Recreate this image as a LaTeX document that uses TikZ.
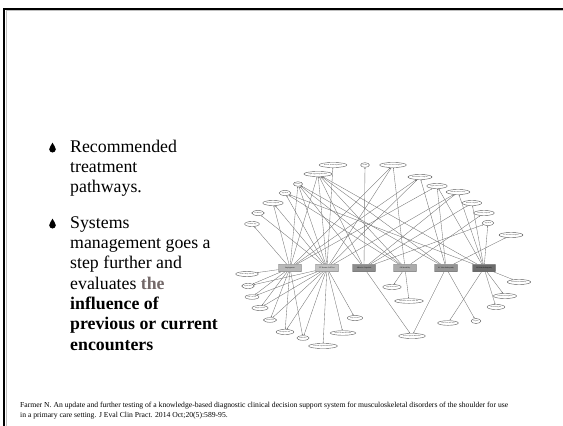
\documentclass[tikz,border=0pt]{standalone}
\usepackage{fontspec}
\setmainfont{Liberation Serif}
\usetikzlibrary{arrows.meta,shapes.geometric}

\definecolor{accent}{RGB}{115,105,105}

\tikzset{
	symptom/.style={ellipse, draw=black!65, fill=white, line width=0.4pt, inner xsep=0.9pt, inner ysep=1.1pt, font=\fontsize{1.5}{1.7}\selectfont},
	dx/.style={draw=black!60, rounded corners=0.6pt, line width=0.3pt, minimum width=23pt, minimum height=7.5pt, inner sep=0.5pt, font=\fontsize{1.8}{2}\selectfont},
	link/.style={draw=black!55, line width=0.35pt, -{Latex[length=1.4pt,width=1.2pt]}},
	body/.style={anchor=base west, inner sep=0pt, font=\fontsize{17.8}{20}\selectfont},
	cite/.style={anchor=base west, inner sep=0pt, font=\fontsize{7.65}{8}\selectfont},
	drop/.pic={
		\fill (0,-5.3) .. controls (0.8,-2.8) and (3.3,-1.2) .. (3.3,1.2)
			arc[start angle=0, end angle=180, radius=3.3]
			.. controls (-3.3,-1.2) and (-0.8,-2.8) .. cycle;
	}
}

\begin{document}
\begin{tikzpicture}[x=1pt, y=-1pt]

	\useasboundingbox (0,0) rectangle (563,426);

	% slide frame
	\draw [line width=2pt]						(4,426) -- (4,8.5) -- (563,8.5);
	\draw [black!25, line width=0.8pt]	(6.3,426) -- (6.3,10.6) -- (563,10.6);

	% bullet text
	\pic at (52.5,148) {drop};
	\node [body] (l1) at (70,152)   {Recommended};
	\node [body] (l2) at (70,172.3) {treatment};
	\node [body] (l3) at (70,192.6) {pathways.};

	\pic at (52.5,224) {drop};
	\node [body] (m1) at (70,228)   {Systems};
	\node [body] (m2) at (70,248.3) {management goes a};
	\node [body] (m3) at (70,268.6) {step further and};
	\node [body] (m4) at (70,289)   {evaluates \textbf{\textcolor{accent}{the}}};
	\node [body] (m5) at (70,309.3) {\textbf{influence of}};
	\node [body] (m6) at (70,329.6) {\textbf{previous or current}};
	\node [body] (m7) at (70,350)   {\textbf{encounters}};

	% diagnoses
	\node [dx, fill=black!28]	(d1) at (290,268) {Impingement};
	\node [dx, fill=black!24]	(d2) at (327,268) {FT Rotator Cuff Tear};
	\node [dx, fill=black!45]	(d3) at (364,268) {Adhesive Capsulitis};
	\node [dx, fill=black!33]	(d4) at (405,268) {GH Instability};
	\node [dx, fill=black!42]	(d5) at (446,268) {AC Joint Arthropathy};
	\node [dx, fill=black!58]	(d6) at (484,268) {GH Joint Arthropathy};

	% history and complaints
	\node [symptom] (a1)  at (252,224) {Off Work Age};
	\node [symptom] (a2)  at (258,213) {OA History};
	\node [symptom] (a3)  at (273,203) {Weakness Complaint};
	\node [symptom] (a4)  at (285,193) {Age 40-60};
	\node [symptom] (a5)  at (298,184) {Trauma};
	\node [symptom] (a6)  at (318,174) {Night Aggravating Movement};
	\node [symptom] (a7)  at (333,165) {Shoulder Thumb Dependence};
	\node [symptom] (a8)  at (365,165) {Gender};
	\node [symptom] (a9)  at (393,165) {Pain Lateral Arm Complaint};
	\node [symptom] (a10) at (420,177) {Pain Shoulder Complaint};
	\node [symptom] (a11) at (437,186) {Upper Limb Activity};
	\node [symptom] (a12) at (458,192) {Stiff Movement Activity};
	\node [symptom] (a13) at (472,203) {Stiffness Complaint};
	\node [symptom] (a14) at (484,213) {Instability Complaint};
	\node [symptom] (a15) at (488,223) {Age 50-70};
	\node [symptom] (a16) at (511,235) {AC Joint Pain Complaint};

	% examination findings
	\node [symptom] (b1)  at (247,274) {Positive Drop Arm Test};
	\node [symptom] (b2)  at (248,286) {Speeds Test};
	\node [symptom] (b3)  at (252,297) {Full Can Test};
	\node [symptom] (b4)  at (260,308) {Empty Can Test};
	\node [symptom] (b5)  at (270,320) {Lift Off Test};
	\node [symptom] (b6)  at (285,332) {Infraspinatus Test};
	\node [symptom] (b7)  at (303,338) {Painful Arc};
	\node [symptom] (b8)  at (323,346) {Pain With Capsular Restriction};
	\node [symptom] (b9)  at (355,318) {Drop Arm Test};
	\node [symptom] (b10) at (343,333) {Passive Ext Rotation Limit};
	\node [symptom] (b11) at (392,287) {Apprehension Test};
	\node [symptom] (b12) at (409,301) {Relocation Anterior Glide Test};
	\node [symptom] (b13) at (412,336) {Passive Capsular Restriction};
	\node [symptom] (b14) at (448,323) {Scarf Cross Arm Test};
	\node [symptom] (b15) at (476,321) {Crepitus};
	\node [symptom] (b16) at (519,282) {Pain Restricted Mobility};
	\node [symptom] (b17) at (505,296) {GH Joint Line Palpation};
	\node [symptom] (b18) at (496,307) {GH Swelling Test};

	% links
	\foreach \d/\s in {d1/a1, d1/a3, d1/a5, d1/a6, d1/a9, d1/a10, d1/a11,
			d2/a2, d2/a3, d2/a4, d2/a5, d2/a6, d2/a7, d2/a9, d2/a10, d2/a12,
			d3/a5, d3/a6, d3/a8, d3/a12, d3/a13, d3/a15,
			d4/a4, d4/a5, d4/a6, d4/a9, d4/a14,
			d5/a5, d5/a6, d5/a10, d5/a11, d5/a16,
			d6/a4, d6/a6, d6/a11, d6/a12, d6/a13, d6/a15}
		\draw [link] (\d) -- (\s);

	\foreach \d/\s in {d1/b1, d1/b2, d1/b3, d1/b4, d1/b5, d1/b6, d1/b7,
			d2/b2, d2/b3, d2/b4, d2/b5, d2/b6, d2/b7, d2/b8, d2/b9, d2/b10,
			d3/b13, d4/b11, d4/b12, d5/b13, d5/b15,
			d6/b14, d6/b16, d6/b17, d6/b18}
		\draw [link] (\d) -- (\s);

	% reference
	\node [cite] (c1) at (20,407) {Farmer N. An update and further testing of a knowledge-based diagnostic clinical decision support system for musculoskeletal disorders of the shoulder for use};
	\node [cite] (c2) at (20,417) {in a primary care setting. J Eval Clin Pract. 2014 Oct;20(5):589-95.};

\end{tikzpicture}
\end{document}
